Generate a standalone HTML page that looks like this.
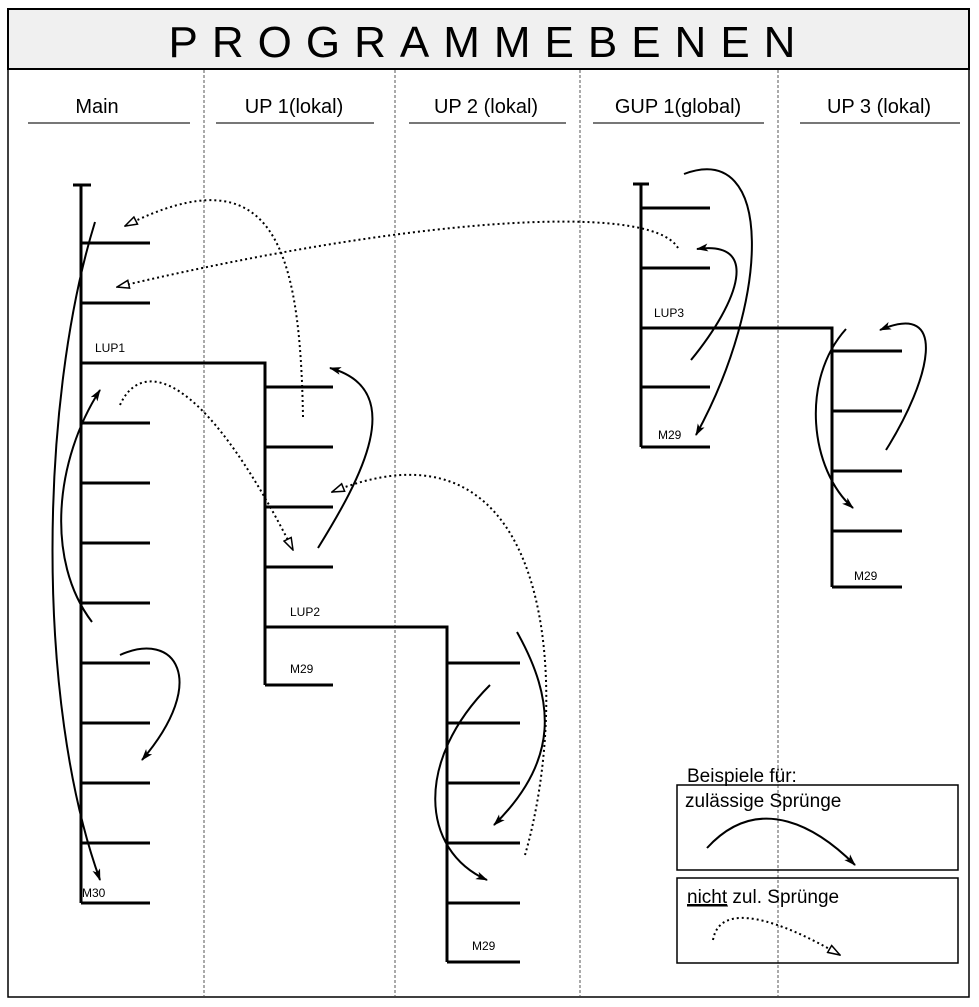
<!DOCTYPE html>
<html><head><meta charset="utf-8"><style>
html,body{margin:0;padding:0;background:#fff;}
svg{display:block;}
text{font-family:"Liberation Sans",Arial,sans-serif;fill:#000;}
</style></head><body>
<svg width="979" height="1007" viewBox="0 0 979 1007" xmlns="http://www.w3.org/2000/svg">
<defs>
<marker id="fa" viewBox="0 0 12 8" refX="11" refY="4" markerWidth="12" markerHeight="8" markerUnits="userSpaceOnUse" orient="auto">
<path d="M0,0 L12,4 L0,8 L3,4 Z" fill="#000"/></marker>
<marker id="oa" viewBox="0 0 14 10" refX="13" refY="5" markerWidth="14" markerHeight="10" markerUnits="userSpaceOnUse" orient="auto">
<path d="M1,1 L13,5 L1,9 Z" fill="#fff" stroke="#000" stroke-width="1.5"/></marker>
</defs>
<rect x="8" y="9" width="961" height="988" fill="#fff" stroke="#000" stroke-width="1.5"/>
<rect x="8" y="9" width="961" height="60" fill="#f0f0f0" stroke="#000" stroke-width="2"/>
<text x="489" y="57" font-size="44" text-anchor="middle" letter-spacing="14">PROGRAMMEBENEN</text>
<g stroke="#555" stroke-width="1" stroke-dasharray="3,2">
<line x1="204" y1="70" x2="204" y2="996"/><line x1="395" y1="70" x2="395" y2="996"/>
<line x1="580" y1="70" x2="580" y2="996"/><line x1="778" y1="70" x2="778" y2="996"/>
</g>
<g font-size="20" text-anchor="middle">
<text x="97" y="113">Main</text><text x="294" y="113">UP 1(lokal)</text><text x="486" y="113">UP 2 (lokal)</text><text x="678" y="113">GUP 1(global)</text><text x="879" y="113">UP 3 (lokal)</text>
</g>
<g stroke="#777" stroke-width="2">
<line x1="28" y1="123" x2="190" y2="123"/><line x1="216" y1="123" x2="374" y2="123"/><line x1="409" y1="123" x2="566" y2="123"/><line x1="593" y1="123" x2="764" y2="123"/><line x1="800" y1="123" x2="960" y2="123"/>
</g>
<g stroke="#000" stroke-width="3" fill="none">
<path d="M73,185 H91 M81,185 V903"/>
<path d="M81,243H150M81,303H150M81,423H150M81,483H150M81,543H150M81,603H150M81,663H150M81,723H150M81,783H150M81,843H150M81,903H150"/>
<path d="M81,363 H265 V685"/>
<path d="M265,387H333M265,447H333M265,507H333M265,567H333M265,685H333"/>
<path d="M265,627 H447 V962"/>
<path d="M447,663H520M447,723H520M447,783H520M447,843H520M447,903H520M447,962H520"/>
<path d="M633,184 H649 M641,184 V447"/>
<path d="M641,208H710M641,268H710M641,387H710M641,447H710"/>
<path d="M641,328 H832 V587"/>
<path d="M832,351H902M832,411H902M832,471H902M832,531H902M832,587H902"/>
</g>
<g font-size="12">
<text x="82" y="897">M30</text><text x="95" y="352">LUP1</text><text x="290" y="616">LUP2</text><text x="290" y="673">M29</text>
<text x="472" y="950">M29</text><text x="654" y="317">LUP3</text><text x="658" y="439">M29</text><text x="854" y="580">M29</text>
</g>
<g stroke="#000" stroke-width="2" fill="none" marker-end="url(#fa)">
<path d="M95,222 C40,400 35,700 100,880"/>
<path d="M92,622 C45,560 55,460 100,390"/>
<path d="M120,655 C175,630 210,680 142,760"/>
<path d="M318,548 C360,480 410,390 330,368"/>
<path d="M517,632 C555,700 560,760 494,825"/>
<path d="M490,685 C415,760 420,850 487,880"/>
<path d="M684,174 C775,140 770,300 696,435"/>
<path d="M691,360 C740,300 760,240 697,249"/>
<path d="M846,329 C800,380 810,470 853,508"/>
<path d="M886,450 C930,380 950,300 880,330"/>
<path d="M707,848 C760,790 820,830 855,865"/>
</g>
<g stroke="#000" stroke-width="2" stroke-dasharray="2,3" fill="none" marker-end="url(#oa)">
<path d="M120,405 C140,360 200,365 293,550"/>
<path d="M303,417 C300,250 275,150 125,226"/>
<path d="M678,248 C650,200 400,220 117,287"/>
<path d="M525,855 C570,700 560,400 332,492"/>
<path d="M713,940 C720,900 780,920 840,955"/>
</g>
<text x="687" y="782" font-size="19">Beispiele für:</text>
<rect x="677" y="785" width="281" height="85" fill="none" stroke="#000" stroke-width="1.5"/>
<text x="685" y="807" font-size="19">zulässige Sprünge</text>
<rect x="677" y="878" width="281" height="85" fill="none" stroke="#000" stroke-width="1.5"/>
<text x="687" y="903" font-size="19"><tspan text-decoration="underline">nicht</tspan> zul. Sprünge</text>
<line x1="687" y1="906" x2="728" y2="906" stroke="#000" stroke-width="1"/>
</svg>
</body></html>
